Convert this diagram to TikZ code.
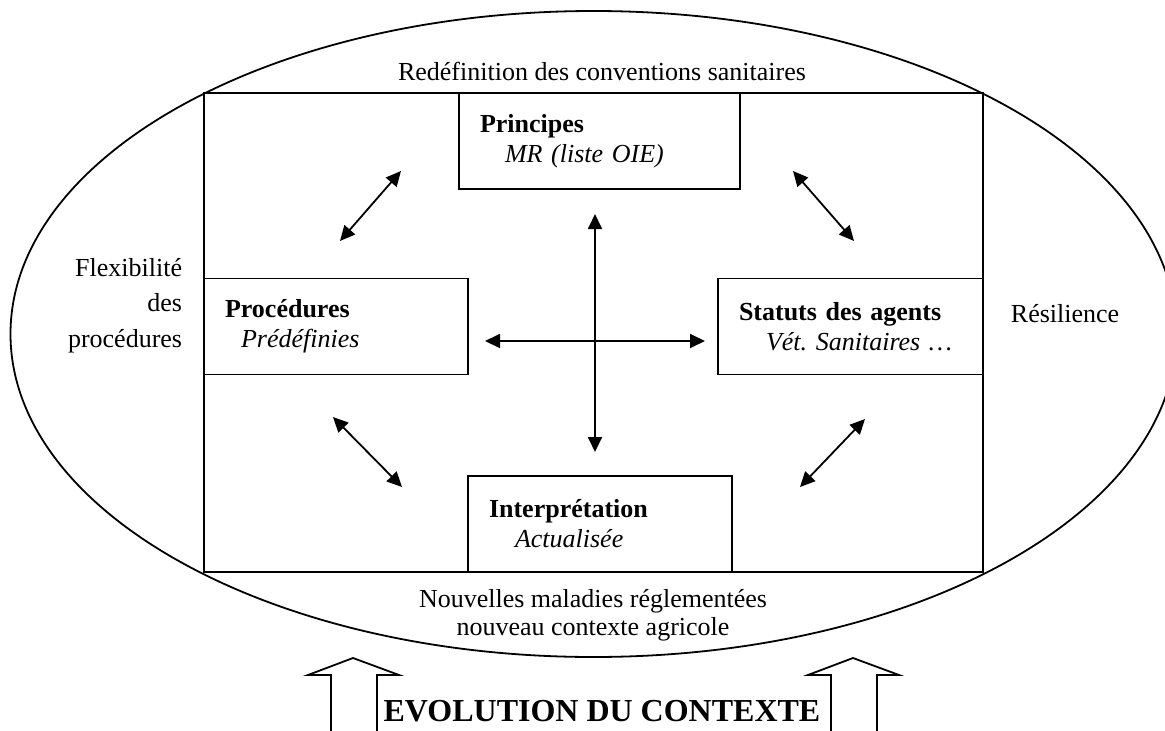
\documentclass[tikz,border=0pt]{standalone}
\usepackage{fontspec}
\setmainfont{Liberation Serif}
\usetikzlibrary{arrows.meta,shapes.geometric}
\frenchspacing

\begin{document}
\begin{tikzpicture}[x=1pt,y=-1pt,line width=1.8pt,
 every node/.style={font=\fontsize{26}{30}\selectfont, inner sep=0pt},
 box/.style={draw, align=left, inner xsep=21pt, minimum height=96pt},
 lien/.style={{Triangle[length=15pt,width=14pt]}-{Triangle[length=15pt,width=14pt]}},
 creux/.style={draw, line join=miter}]
\useasboundingbox (0,0) rectangle (1165,731);
\clip (0,0) rectangle (1165,731);
% contour
\node[draw, ellipse, minimum width=1166pt, minimum height=646pt] (env) at (593.5,334) {};
\node[draw, minimum width=779pt, minimum height=479pt] (cadre) at (593.5,332.5) {};
% les quatre poles
\node[box, text width=239pt] (princ) at (599.5,141) {\textbf{Principes}\\\hspace*{25pt}\textit{MR (liste OIE)}};
\node[box, text width=222pt] (proc) at (336,326.5) {\textbf{Procédures}\\\hspace*{16pt}\textit{Prédéfinies}};
\node[box, text width=223pt] (stat) at (850.5,326.5) {\textbf{Statuts des agents}\\\hspace*{27pt}\textit{Vét. Sanitaires …}};
\node[box, text width=222pt] (interp) at (600,524) {\textbf{Interprétation}\\\hspace*{26pt}\textit{Actualisée}};
% textes autour
\node[anchor=base] (redef) at (602,80) {Redéfinition des conventions sanitaires};
\node[align=center, font=\fontsize{26}{28}\selectfont] (nouv) at (593,615) {Nouvelles maladies réglementées\\nouveau contexte agricole};
\node[align=right, anchor=east, font=\fontsize{26}{35.5}\selectfont] (flex) at (183,305.4) {Flexibilité\\des\\procédures};
\node[anchor=base west] (resil) at (1010,322) {Résilience};
\node[anchor=base, font=\fontsize{32}{38}\selectfont\bfseries] (evol) at (602,721) {EVOLUTION DU CONTEXTE};
% fleches doubles
\coordinate (hg1) at (340,241); \coordinate (hg2) at (401,171);
\coordinate (hd1) at (793,171); \coordinate (hd2) at (854,241);
\coordinate (bg1) at (333,417); \coordinate (bg2) at (402,487);
\coordinate (bd1) at (800,487); \coordinate (bd2) at (865,419);
\coordinate (vh) at (595,214); \coordinate (vb) at (595,452);
\coordinate (hz1) at (485,341); \coordinate (hz2) at (705,341);
\draw[lien] (hg1) -- (hg2);
\draw[lien] (hd1) -- (hd2);
\draw[lien] (bg1) -- (bg2);
\draw[lien] (bd1) -- (bd2);
\draw[lien] (vh) -- (vb);
\draw[lien] (hz1) -- (hz2);
% fleches creuses
\draw[creux] (331,740) -- (331,675) -- (308,675) -- (353,658) -- (399,675) -- (377,675) -- (377,740);
\draw[creux] (831,740) -- (831,675) -- (808,675) -- (853,658) -- (899,675) -- (877,675) -- (877,740);
\end{tikzpicture}
\end{document}
